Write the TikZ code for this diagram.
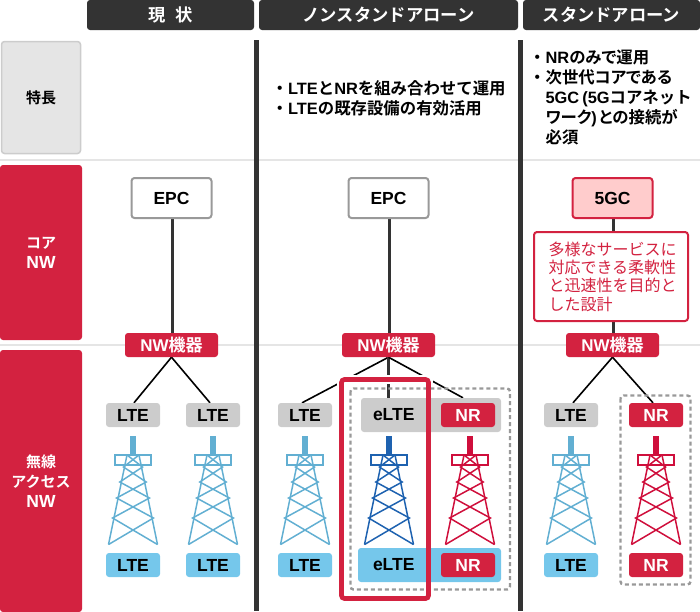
\documentclass[tikz,border=0pt]{standalone}
\usepackage{fontspec}
\setmainfont{Liberation Sans}
\newfontfamily\jpr{Noto Sans CJK JP}
\newfontfamily\jpb{Noto Sans CJK JP Bold}
\newfontfamily\jpbp[RawFeature=+palt]{Noto Sans CJK JP Bold}
\newfontfamily\lb{Liberation Sans Bold}
\newcommand{\lat}[1]{{\lb #1}}
\newcommand{\bul}{\makebox[1em][c]{・}}
\definecolor{dk}{HTML}{333333}
\definecolor{rd}{HTML}{D32240}
\definecolor{gl}{HTML}{CCCCCC}
\definecolor{bl}{HTML}{75C7EB}
\definecolor{tl}{HTML}{62AFD2}
\definecolor{te}{HTML}{1E62B0}
\definecolor{tr}{HTML}{CF0F3C}
\definecolor{gridc}{HTML}{E5E5E5}
\definecolor{pk}{HTML}{FFCCCC}
\definecolor{dg}{HTML}{999999}
\pgfdeclarelayer{conn}
\pgfsetlayers{conn,main}
\tikzset{
  hd/.style={fill=dk,text=white,rounded corners=3pt,minimum height=30pt,inner sep=0,font=\jpb\fontsize{17.3}{18}\selectfont},
  side/.style={fill=rd,text=white,rounded corners=3pt,minimum width=82pt,inner sep=0,align=center,font=\jpb\fontsize{15}{20}\selectfont},
  core/.style={draw=#1,line width=2pt,rounded corners=3pt,minimum width=80pt,minimum height=40pt,inner sep=0,font=\lb\fontsize{17.5}{20}\selectfont},
  nwbox/.style={fill=rd,text=white,rounded corners=3pt,minimum width=93pt,minimum height=24pt,inner sep=0},
  lab/.style={fill=#1,rounded corners=3pt,minimum width=54pt,minimum height=24pt,inner sep=0},
  wide/.style={fill=#1,rounded corners=3pt,inner sep=0},
  redlab/.style={fill=rd,text=white,rounded corners=3pt,minimum width=54pt,minimum height=24pt,inner sep=0},
  desc/.style={inner sep=0,anchor=north west,align=left},
  wire/.style={draw=black,line width=1.6pt},
  trunk/.style={draw=dk,line width=3pt},
  grid line/.style={draw=gridc,line width=1.5pt},
  dashbox/.style={draw=dg,line width=2.4pt,dash pattern=on 4pt off 3pt,rounded corners=3pt},
}
\newcommand{\txt}[1]{\fontsize{17.5}{20}\selectfont\lat{#1}}
\newcommand{\nwt}{\fontsize{17}{20}\selectfont\lat{NW}{\jpb 機器}}
\newcommand{\tower}[2]{%
  \begin{scope}[shift={(#1,0)},draw=#2,line width=1.5pt,line join=miter]
    \fill[#2] (-2.8,436) rectangle (2.8,456);
    \draw (-18,455) rectangle (18,465);
    \draw (-6,455) -- (-24.5,544.5) (6,455) -- (24.5,544.5);
    \draw (-24.5,544.5) -- (20.4,518) -- (-16.4,498) -- (13.2,482) -- (-9.5,467) -- (6,455);
    \draw (24.5,544.5) -- (-20.4,518) -- (16.4,498) -- (-13.2,482) -- (9.5,467) -- (-6,455);
  \end{scope}}
\begin{document}
\begin{tikzpicture}[x=1pt,y=-1pt]
\useasboundingbox (0,0) rectangle (700,611);
% headers
\node[hd,minimum width=167pt] (h1) at (170.5,15) {現\hspace{0.55em}状};
\node[hd,minimum width=259pt] (h2) at (388.5,15) {ノンスタンドアローン};
\node[hd,minimum width=177pt] (h3) at (611.5,15) {スタンドアローン};
% side
\node[side,minimum width=79pt,minimum height=112pt,fill=gridc,draw=gl,line width=1.5pt,text=black] (s1) at (41,97.5) {特長};
\node[side,minimum height=175pt] (s2) at (41,252.5) {コア\\{\fontsize{17.5}{20}\selectfont\lat{NW}}};
\node[side,minimum height=262pt] (s3) at (41,481) {無線\\アクセス\\{\fontsize{17.5}{20}\selectfont\lat{NW}}};
% bars
\fill[dk] (254,40) rectangle (259,611);
\fill[dk] (518,40) rectangle (523,611);
% descriptions
\node[desc,font=\jpb\fontsize{16.4}{20}\selectfont] (d1) at (271.5,80) {\bul\lat{LTE}と\lat{NR}を組み合わせて運用\\\bul\lat{LTE}の既存設備の有効活用};
\node[desc,font=\jpbp\fontsize{16.4}{20}\selectfont] (d2) at (529,50) {\bul\lat{NR}のみで運用\\\bul 次世代コアである\\\hspace*{1em}\lat{5GC\hspace{3pt}(5G}{\jpb コアネット}\\\hspace*{1em}ワーク\lat{)}\hspace{2pt}との接続が\\\hspace*{1em}必須};
% core
\node[core=dg,fill=white] (c1) at (171.5,198) {EPC};
\node[core=dg,fill=white] (c2) at (388.5,198) {EPC};
\node[core=rd,fill=pk] (c3) at (612.5,198) {5GC};
\node[draw=rd,line width=2pt,fill=white,text=rd,rounded corners=3pt,minimum width=154pt,minimum height=89pt,inner sep=0,align=left,font=\jpr\fontsize{16}{18.3}\selectfont] (call) at (611,276.5) {\hspace*{3pt}多様なサービスに\\\hspace*{3pt}対応できる柔軟性\\\hspace*{3pt}と迅速性を目的と\\\hspace*{3pt}した設計};
% NW
\node[nwbox] (n1) at (171.5,345) {\nwt};
\node[nwbox] (n2) at (388.5,345) {\nwt};
\node[nwbox] (n3) at (612.5,345) {\nwt};
% dashed frames
\draw[dashbox] (350.5,388.5) rectangle (510,589.5);
\draw[dashbox] (620.5,395.5) rectangle (690.5,584.5);
% labels top
\node[lab=gl] (a1) at (133,415) {\txt{LTE}};
\node[lab=gl] (a2) at (213,415) {\txt{LTE}};
\node[lab=gl] (a3) at (305,415) {\txt{LTE}};
\node[wide=gl,minimum width=140pt,minimum height=34pt,text width=140pt,align=left] (a4) at (431,415) {\hspace*{12pt}\txt{eLTE}};
\node[redlab] (a5) at (468,415) {\txt{NR}};
\node[lab=gl] (a6) at (571,415) {\txt{LTE}};
\node[redlab] (a7) at (656,415) {\txt{NR}};
% labels bottom
\node[lab=bl] (b1) at (133,565) {\txt{LTE}};
\node[lab=bl] (b2) at (213,565) {\txt{LTE}};
\node[lab=bl] (b3) at (305,565) {\txt{LTE}};
\node[wide=bl,minimum width=143pt,minimum height=34pt,text width=143pt,align=left] (b4) at (429.5,565) {\hspace*{15pt}\txt{eLTE}};
\node[redlab] (b5) at (468,565) {\txt{NR}};
\node[lab=bl] (b6) at (571,565) {\txt{LTE}};
\node[redlab] (b7) at (656,565) {\txt{NR}};
% towers
\tower{133}{tl}
\tower{213}{tl}
\tower{305}{tl}
\tower{389}{te}
\tower{470}{tr}
\tower{571}{tl}
\tower{656}{tr}
% red frame
\draw[draw=rd,line width=4.7pt,rounded corners=3pt] (341.5,379.5) rectangle (428.5,598.5);
\begin{pgfonlayer}{conn}
  \draw[grid line] (0,160) -- (700,160);
  \draw[grid line] (0,345) -- (700,345);
  \draw[trunk] ([xshift=.7pt]c1.south) -- ([xshift=.7pt]n1.north);
  \draw[trunk] ([xshift=.7pt]c2.south) -- ([xshift=.7pt]n2.north);
  \draw[trunk] ([xshift=.7pt]c3.south) -- ([xshift=.7pt]n3.north);
  \draw[wire] (n1.south) -- ([xshift=1pt]a1.north);
  \draw[wire] (n1.south) -- ([xshift=-3pt]a2.north);
  \draw[wire] (n2.south) -- ([xshift=-3pt]a3.north);
  \draw[trunk] (n2.south) -- (n2.south |- a4.north);
  \draw[wire] (n2.south) -- ([xshift=-5pt]a5.north |- a4.north);
  \draw[wire] (n3.south) -- ([xshift=2pt]a6.north);
  \draw[wire] (n3.south) -- ([xshift=-3pt]a7.north);
  \draw[white,line width=9pt] (341.5,379.5) rectangle (428.5,598.5);
\end{pgfonlayer}
\end{tikzpicture}
\end{document}
